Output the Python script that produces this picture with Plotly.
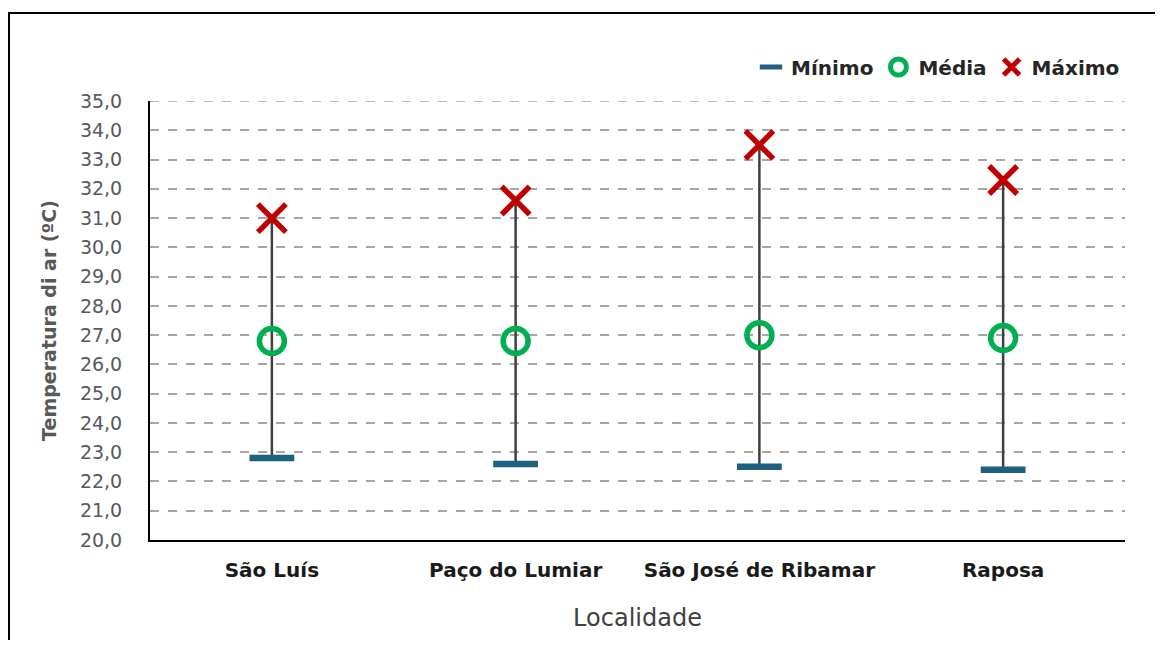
import plotly.graph_objects as go

categories = ["São Luís", "Paço do Lumiar", "São José de Ribamar", "Raposa"]
minimo = [22.8, 22.6, 22.5, 22.4]
media = [26.8, 26.8, 27.0, 26.9]
maximo = [31.0, 31.6, 33.5, 32.3]
y_ticks = [20, 21, 22, 23, 24, 25, 26, 27, 28, 29, 30, 31, 32, 33, 34, 35]

FONT = "DejaVu Sans, Liberation Sans, sans-serif"

fig = go.Figure()

# vertical range lines (min to max)
for c, lo, hi in zip(categories, minimo, maximo):
    fig.add_trace(go.Scatter(x=[c, c], y=[lo, hi], mode="lines",
                             line=dict(color="#404040", width=2.5),
                             showlegend=False, hoverinfo="skip"))

fig.add_trace(go.Scatter(x=categories, y=minimo, mode="markers", name="Mínimo",
                         marker=dict(symbol="line-ew", size=32,
                                     line=dict(color="#1F5F80", width=6.5))))
fig.add_trace(go.Scatter(x=categories, y=media, mode="markers", name="Média",
                         marker=dict(symbol="circle-open", size=25,
                                     line=dict(color="#00B050", width=5.5),
                                     color="#00B050")))
fig.add_trace(go.Scatter(x=categories, y=maximo, mode="markers", name="Máximo",
                         marker=dict(symbol="x-thin-open", size=28,
                                     line=dict(color="#C00000", width=5.5),
                                     color="#C00000")))

# page is offset by the default 8px body margin; compensate
OFF = 8
W, H = 1163 - 2 * OFF, 648 - 2 * OFF
PL, PR, PT, PB = 150, 1125, 101, 540  # plot area in page pixels
L, R, T, B = PL - OFF, W - (PR - OFF), PT - OFF, H - (PB - OFF)
pw, ph = W - L - R, H - T - B


def px_x(p):
    return (p - OFF - L) / pw


def px_y(p):
    return (H - B - (p - OFF)) / ph


fig.add_shape(type="rect", xref="paper", yref="paper",
              x0=px_x(9), x1=px_x(1300), y0=px_y(13), y1=px_y(800),
              line=dict(color="#000000", width=2), fillcolor="rgba(0,0,0,0)",
              layer="below")
# top gridline at 35
fig.add_shape(type="line", xref="paper", yref="y", x0=0, x1=1, y0=35, y1=35,
              line=dict(color="#A6A6A6", width=1.5, dash="dash"), layer="below")

fig.update_layout(
    width=W, height=H,
    margin=dict(l=L, r=R, t=T, b=B),
    plot_bgcolor="white", paper_bgcolor="white",
    separators=",.",
    font=dict(family=FONT, color="#595959"),
    legend=dict(orientation="h", x=1.0, xanchor="right", y=px_y(67), yanchor="middle",
                font=dict(family=FONT, size=20, color="#262626", weight="bold"),
                itemwidth=30, traceorder="normal", bgcolor="rgba(0,0,0,0)"),
    xaxis=dict(
        type="category", range=[-0.5, 3.5],
        showline=True, linecolor="#000000", linewidth=2,
        showgrid=False, ticks="", ticklabelstandoff=11,
        tickfont=dict(family=FONT, size=20, color="#1a1a1a", weight="bold"),
        title=dict(text="Localidade", standoff=28,
                   font=dict(family=FONT, size=24, color="#404040")),
    ),
    yaxis=dict(
        range=[20, 35], tickvals=y_ticks, tickformat=".1f",
        showline=True, linecolor="#000000", linewidth=2,
        showgrid=True, gridcolor="#A6A6A6", griddash="dash", gridwidth=1.5,
        zeroline=False, ticks="", ticklabelstandoff=22,
        tickfont=dict(family=FONT, size=19, color="#595959"),
        title=dict(text="Temperatura di ar (ºC)", standoff=18,
                   font=dict(family=FONT, size=19, color="#595959", weight="bold")),
    ),
)

fig.write_html("out.html")
